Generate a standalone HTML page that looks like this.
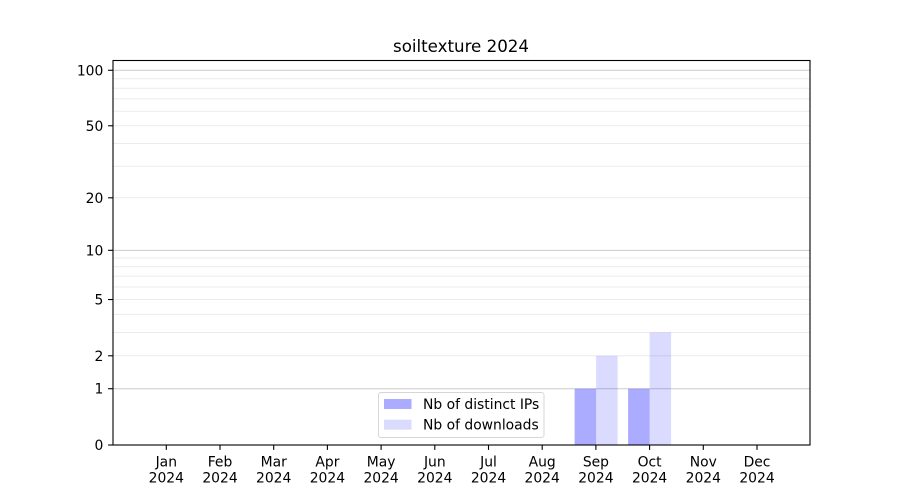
<!DOCTYPE html>
<html>
<head>
<meta charset="utf-8">
<style>
  html, body { margin: 0; padding: 0; background: #ffffff; }
  svg { display: block; }
  text { font-family: "DejaVu Sans", "Liberation Sans", sans-serif; fill: #000; }
</style>
</head>
<body>
<svg width="900" height="500" viewBox="0 0 900 500" xmlns="http://www.w3.org/2000/svg">
  <rect x="0" y="0" width="900" height="500" fill="#ffffff"/>

  <!-- minor gridlines -->
  <g stroke="#ebebeb" stroke-width="1">
    <line x1="113" x2="810" y1="355.8" y2="355.8"/>
    <line x1="113" x2="810" y1="332.45" y2="332.45"/>
    <line x1="113" x2="810" y1="314.33" y2="314.33"/>
    <line x1="113" x2="810" y1="299.53" y2="299.53"/>
    <line x1="113" x2="810" y1="287.01" y2="287.01"/>
    <line x1="113" x2="810" y1="276.17" y2="276.17"/>
    <line x1="113" x2="810" y1="266.6" y2="266.6"/>
    <line x1="113" x2="810" y1="258.05" y2="258.05"/>
    <line x1="113" x2="810" y1="197.81" y2="197.81"/>
    <line x1="113" x2="810" y1="166.2" y2="166.2"/>
    <line x1="113" x2="810" y1="143.49" y2="143.49"/>
    <line x1="113" x2="810" y1="125.78" y2="125.78"/>
    <line x1="113" x2="810" y1="111.22" y2="111.22"/>
    <line x1="113" x2="810" y1="98.9" y2="98.9"/>
    <line x1="113" x2="810" y1="88.21" y2="88.21"/>
    <line x1="113" x2="810" y1="78.76" y2="78.76"/>
  </g>
  <!-- major gridlines -->
  <g stroke="#cccccc" stroke-width="1">
    <line x1="113" x2="810" y1="388.72" y2="388.72"/>
    <line x1="113" x2="810" y1="250.32" y2="250.32"/>
    <line x1="113" x2="810" y1="70.28" y2="70.28"/>
  </g>

  <!-- bars -->
  <rect x="574.6" y="388.72" width="21.5" height="56.28" fill="#0000ff" fill-opacity="0.33"/>
  <rect x="596.1" y="355.8" width="21.5" height="89.2" fill="#0000ff" fill-opacity="0.14"/>
  <rect x="628.1" y="388.72" width="21.5" height="56.28" fill="#0000ff" fill-opacity="0.33"/>
  <rect x="649.6" y="332.45" width="21.5" height="112.55" fill="#0000ff" fill-opacity="0.14"/>

  <!-- axes frame -->
  <rect x="113" y="60.5" width="697" height="384.5" fill="none" stroke="#000" stroke-width="1.1"/>

  <!-- y ticks -->
  <g stroke="#000" stroke-width="1.1">
    <line x1="108.1" x2="113" y1="445" y2="445"/>
    <line x1="108.1" x2="113" y1="388.72" y2="388.72"/>
    <line x1="108.1" x2="113" y1="355.8" y2="355.8"/>
    <line x1="108.1" x2="113" y1="299.53" y2="299.53"/>
    <line x1="108.1" x2="113" y1="250.32" y2="250.32"/>
    <line x1="108.1" x2="113" y1="197.81" y2="197.81"/>
    <line x1="108.1" x2="113" y1="125.78" y2="125.78"/>
    <line x1="108.1" x2="113" y1="70.28" y2="70.28"/>
  </g>
  <g font-size="13.89" text-anchor="end">
    <text x="103.3" y="450">0</text>
    <text x="103.3" y="393.7">1</text>
    <text x="103.3" y="360.8">2</text>
    <text x="103.3" y="304.5">5</text>
    <text x="103.3" y="255.3">10</text>
    <text x="103.3" y="202.8">20</text>
    <text x="103.3" y="130.8">50</text>
    <text x="103.3" y="75.3">100</text>
  </g>

  <!-- x ticks -->
  <g stroke="#000" stroke-width="1.1">
    <line x1="166.3" x2="166.3" y1="445" y2="449.9"/>
    <line x1="220.0" x2="220.0" y1="445" y2="449.9"/>
    <line x1="273.7" x2="273.7" y1="445" y2="449.9"/>
    <line x1="327.4" x2="327.4" y1="445" y2="449.9"/>
    <line x1="381.1" x2="381.1" y1="445" y2="449.9"/>
    <line x1="434.8" x2="434.8" y1="445" y2="449.9"/>
    <line x1="488.5" x2="488.5" y1="445" y2="449.9"/>
    <line x1="542.2" x2="542.2" y1="445" y2="449.9"/>
    <line x1="595.9" x2="595.9" y1="445" y2="449.9"/>
    <line x1="649.6" x2="649.6" y1="445" y2="449.9"/>
    <line x1="703.3" x2="703.3" y1="445" y2="449.9"/>
    <line x1="757.0" x2="757.0" y1="445" y2="449.9"/>
  </g>
  <g font-size="13.89" text-anchor="middle">
    <text x="166.3" y="466.5">Jan</text><text x="166.3" y="482.5">2024</text>
    <text x="220.0" y="466.5">Feb</text><text x="220.0" y="482.5">2024</text>
    <text x="273.7" y="466.5">Mar</text><text x="273.7" y="482.5">2024</text>
    <text x="327.4" y="466.5">Apr</text><text x="327.4" y="482.5">2024</text>
    <text x="381.1" y="466.5">May</text><text x="381.1" y="482.5">2024</text>
    <text x="434.8" y="466.5">Jun</text><text x="434.8" y="482.5">2024</text>
    <text x="488.5" y="466.5">Jul</text><text x="488.5" y="482.5">2024</text>
    <text x="542.2" y="466.5">Aug</text><text x="542.2" y="482.5">2024</text>
    <text x="595.9" y="466.5">Sep</text><text x="595.9" y="482.5">2024</text>
    <text x="649.6" y="466.5">Oct</text><text x="649.6" y="482.5">2024</text>
    <text x="703.3" y="466.5">Nov</text><text x="703.3" y="482.5">2024</text>
    <text x="757.0" y="466.5">Dec</text><text x="757.0" y="482.5">2024</text>
  </g>

  <!-- title -->
  <text x="461" y="52" font-size="16.67" text-anchor="middle">soiltexture 2024</text>

  <!-- legend -->
  <rect x="378.5" y="392.5" width="165.5" height="45" rx="2.5" ry="2.5" fill="#ffffff" fill-opacity="0.8" stroke="#d6d6d6" stroke-width="1"/>
  <rect x="384" y="399" width="27.5" height="10" fill="#0000ff" fill-opacity="0.33"/>
  <rect x="384" y="419.7" width="27.5" height="10" fill="#0000ff" fill-opacity="0.14"/>
  <g font-size="13.89">
    <text x="423" y="409">Nb of distinct IPs</text>
    <text x="423" y="429.7">Nb of downloads</text>
  </g>
</svg>
</body>
</html>
